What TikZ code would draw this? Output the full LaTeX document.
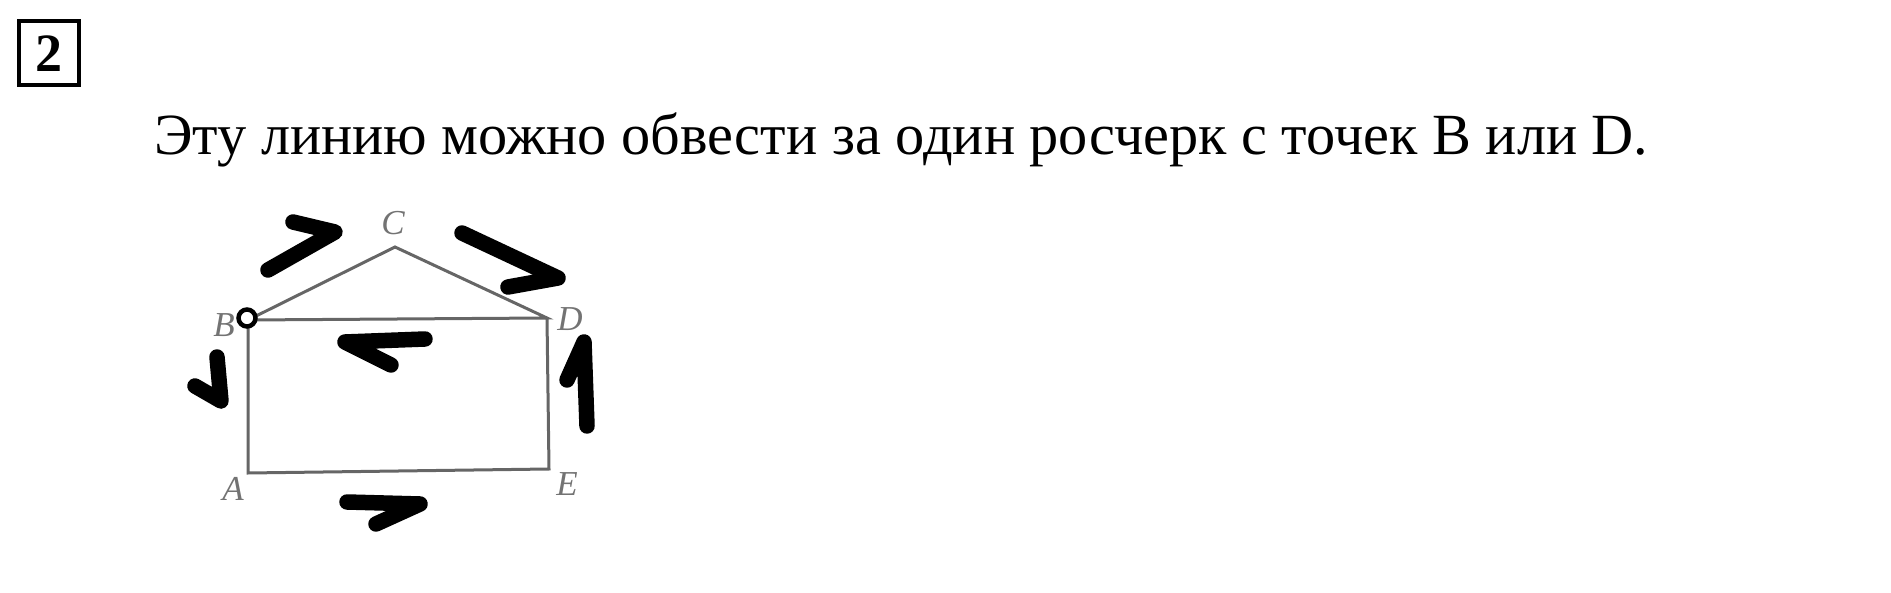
\documentclass[tikz,border=0pt]{standalone}
\usepackage{fontspec}
\setmainfont{Liberation Serif}
\begin{document}
\begin{tikzpicture}[x=1pt,y=-1pt,
  edge/.style={draw=black!60,line width=3pt,line join=miter},
  marker/.style={draw=black,line width=15.5pt,line cap=round,line join=round},
  lbl/.style={text=black!55,font=\fontsize{35}{35}\selectfont\itshape,inner sep=0pt}]
\useasboundingbox (0,0) rectangle (1891,593);
% number box
\node[draw=black,line width=4pt,minimum width=60pt,minimum height=64pt,inner sep=0pt,
  font=\fontsize{54}{54}\selectfont\bfseries] (num) at (48.5,53.5) {2};
% sentence
\node[anchor=base west,inner sep=0pt,font=\fontsize{58.3}{58.3}\selectfont] (txt) at (154,155)
  {Эту линию можно обвести за один росчерк с точек B или D.};
% vertices
\coordinate (B) at (248,320);
\coordinate (C) at (395,247);
\coordinate (D) at (547,318);
\coordinate (E) at (549,469);
\coordinate (A) at (248,473);
\draw[edge] (B) -- (C) -- (D) -- (B) -- (A) -- (E) -- (D);
% labels
\node[lbl] (lC) at (393,223) {C};
\node[lbl] (lB) at (224,325) {B};
\node[lbl] (lD) at (570,319) {D};
\node[lbl] (lA) at (233,489) {A};
\node[lbl] (lE) at (567,484) {E};
% start marker at B
\node[circle,draw=black,fill=white,line width=4.5pt,minimum size=17pt,inner sep=0pt] (mB) at (247,318) {};
% hand-drawn direction strokes
\coordinate (s1a) at (293,222); \coordinate (s1b) at (335,232); \coordinate (s1c) at (268,270);
\draw[marker] (s1a) -- (s1b) -- (s1c);
\coordinate (s2a) at (462,233); \coordinate (s2b) at (558,278); \coordinate (s2c) at (508,287);
\draw[marker] (s2a) -- (s2b) -- (s2c);
\coordinate (s3a) at (425,339); \coordinate (s3b) at (345,342); \coordinate (s3c) at (391,365);
\draw[marker] (s3a) -- (s3b) -- (s3c);
\coordinate (s4a) at (217,357); \coordinate (s4b) at (221,401); \coordinate (s4c) at (195,386);
\draw[marker] (s4a) -- (s4b) -- (s4c);
\coordinate (s5a) at (587,426); \coordinate (s5b) at (584,342); \coordinate (s5c) at (567,380);
\draw[marker] (s5a) -- (s5b) -- (s5c);
\coordinate (s6a) at (347,502); \coordinate (s6b) at (420,504); \coordinate (s6c) at (376,524);
\draw[marker] (s6a) -- (s6b) -- (s6c);
\end{tikzpicture}
\end{document}
